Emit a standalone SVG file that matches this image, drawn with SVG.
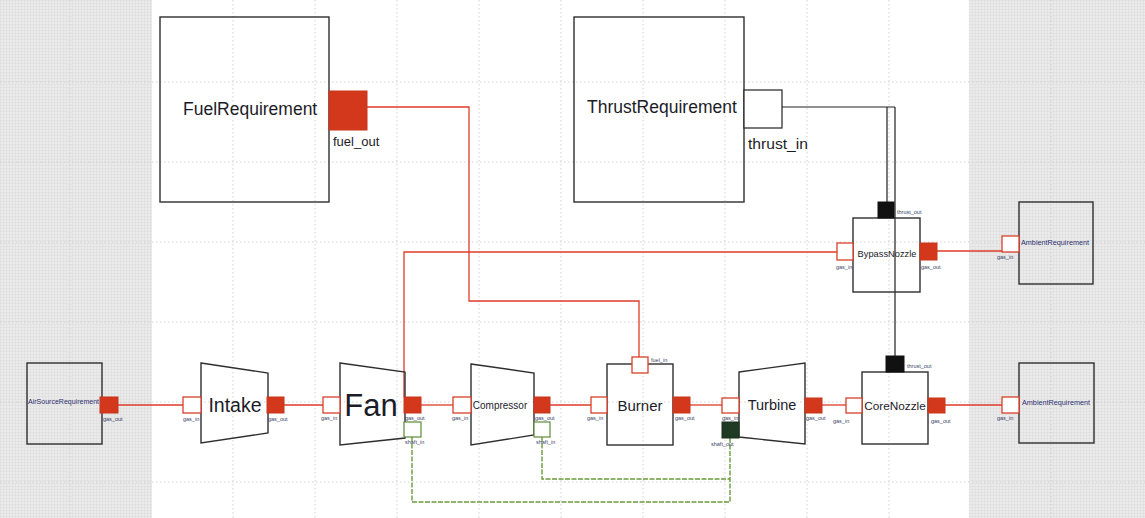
<svg xmlns="http://www.w3.org/2000/svg" width="1145" height="518" viewBox="0 0 1145 518">
<style>
.grid{stroke:#d2d2d2;stroke-width:1;stroke-dasharray:1.5 2.5;fill:none}
.box{fill:none;stroke:#2e2e2e;stroke-width:1.4}
.pin{fill:#ffffff;stroke:#d8402a;stroke-width:1.3}
.pout{fill:#d3381d;stroke:#c8361c;stroke-width:1}
.sin{fill:#ffffff;stroke:#5e8a3a;stroke-width:1.2}
.sout{fill:#1f3b24;stroke:#1a2e1c;stroke-width:1}
.tout{fill:#111111;stroke:#111111;stroke-width:1}
.tin{fill:#ffffff;stroke:#222222;stroke-width:1.2}
.red{fill:none;stroke:#de3d28;stroke-width:1.3}
.blk{fill:none;stroke:#222222;stroke-width:1.2}
.grn{fill:none;stroke:#6a9c3c;stroke-width:1.4;stroke-dasharray:5 1.5}
.big{font-family:"Liberation Sans",Arial,sans-serif;fill:#1c1c28}
.tiny{font-family:"Liberation Sans",Arial,sans-serif;font-size:5.5px;fill:#3a3f66}
.nl{font-family:"Liberation Sans",Arial,sans-serif;font-size:6.5px;fill:#2c2f70}
</style>
<defs>
<pattern id="dots" width="3" height="3" patternUnits="userSpaceOnUse">
<rect width="3" height="3" fill="#ebebeb"/>
<rect x="0" y="0" width="3" height="0.6" fill="#dcdcdc"/>
<rect x="0" y="0" width="0.6" height="3" fill="#dedede"/>
</pattern>
</defs>
<rect x="0" y="0" width="1145" height="518" fill="#ffffff"/>
<rect x="0" y="0" width="152" height="518" fill="url(#dots)"/>
<rect x="969" y="0" width="176" height="518" fill="url(#dots)"/>
<g id="grid">
<path class="grid" d="M233 0V518M315 0V518M397 0V518M479 0V518M561 0V518M643 0V518M725 0V518M807 0V518M889 0V518M70 0V518M1051 0V518"/>
<path class="grid" d="M0 82H1145M0 162H1145M0 242H1145M0 322H1145M0 402H1145M0 482H1145"/>
</g>

<g id="connectors">
<path class="red" d="M118 405H183"/>
<path class="red" d="M284 405H323"/>
<path class="red" d="M421 405H453"/>
<path class="red" d="M550 405H591"/>
<path class="red" d="M690 405H722"/>
<path class="red" d="M822 405H846"/>
<path class="red" d="M945 405H1002"/>
<path class="red" d="M404 397V252H837"/>
<path class="red" d="M937 251H1002"/>
<path class="red" d="M367 107H469V301H639V357"/>
<path class="blk" d="M782 107H895M887 107V202M895 107V356"/>
<path class="grn" d="M412 437V502H730V438"/>
<path class="grn" d="M542 437V479H730"/>
</g>

<g id="AirSourceRequirement">
<rect class="box" x="27" y="363" width="75" height="81"/>
<text class="nl" x="28" y="404" textLength="71" lengthAdjust="spacingAndGlyphs">AirSourceRequirement</text>
<rect class="pout" x="100" y="397" width="18" height="16"/>
<text class="tiny" x="103" y="421">gas_out</text>
</g>

<g id="Intake">
<path class="box" d="M201 363L268 373V433L201 443Z"/>
<text class="big" x="235" y="412" font-size="19.5" text-anchor="middle">Intake</text>
<rect class="pin" x="183" y="397" width="18" height="16"/>
<rect class="pout" x="267" y="397" width="17" height="16"/>
<text class="tiny" x="183" y="421">gas_in</text>
<text class="tiny" x="268" y="421">gas_out</text>
</g>

<g id="Fan">
<path class="box" d="M340 363L405 372V438L340 445Z"/>
<text class="big" x="371" y="416" font-size="31" text-anchor="middle">Fan</text>
<rect class="pin" x="323" y="397" width="17" height="16"/>
<rect class="pout" x="404" y="397" width="17" height="16"/>
<rect class="sin" x="404" y="422" width="17" height="15"/>
<text class="tiny" x="321" y="420">gas_in</text>
<text class="tiny" x="405" y="420">gas_out</text>
<text class="tiny" x="405" y="444">shaft_in</text>
</g>

<g id="Compressor">
<path class="box" d="M471 364L534 373V435L471 445Z"/>
<text class="big" x="500" y="409" font-size="10" text-anchor="middle">Compressor</text>
<rect class="pin" x="453" y="397" width="18" height="16"/>
<rect class="pout" x="534" y="397" width="16" height="16"/>
<rect class="sin" x="534" y="422" width="16" height="15"/>
<text class="tiny" x="452" y="420">gas_in</text>
<text class="tiny" x="535" y="420">gas_out</text>
<text class="tiny" x="536" y="444">shaft_in</text>
</g>

<g id="Burner">
<rect class="box" x="607" y="364" width="66" height="81"/>
<text class="big" x="640" y="411" font-size="15" text-anchor="middle">Burner</text>
<rect class="pin" x="591" y="397" width="16" height="16"/>
<rect class="pout" x="673" y="397" width="17" height="16"/>
<rect class="pin" x="632" y="357" width="16" height="16"/>
<text class="tiny" x="587" y="420">gas_in</text>
<text class="tiny" x="675" y="420">gas_out</text>
<text class="tiny" x="651" y="362">fuel_in</text>
</g>

<g id="Turbine">
<path class="box" d="M739 372L805 363V444L739 437Z"/>
<text class="big" x="772" y="410" font-size="14.5" text-anchor="middle">Turbine</text>
<rect class="pin" x="722" y="398" width="17" height="15"/>
<rect class="pout" x="805" y="398" width="17" height="15"/>
<rect class="sout" x="722" y="422" width="17" height="16"/>
<text class="tiny" x="722" y="420">gas_in</text>
<text class="tiny" x="806" y="420">gas_out</text>
<text class="tiny" x="711" y="446">shaft_out</text>
</g>

<g id="CoreNozzle">
<rect class="box" x="862" y="372" width="66" height="72"/>
<text class="big" x="895" y="410" font-size="11.8" text-anchor="middle">CoreNozzle</text>
<rect class="pin" x="846" y="398" width="16" height="15"/>
<rect class="pout" x="928" y="398" width="17" height="15"/>
<rect class="tout" x="886" y="356" width="18" height="16"/>
<text class="tiny" x="833" y="423" font-size="6.5">gas_in</text>
<text class="tiny" x="931" y="423" font-size="6.5">gas_out</text>
<text class="tiny" x="907" y="368">thrust_out</text>
</g>

<g id="BypassNozzle">
<rect class="box" x="853" y="218" width="67" height="74"/>
<text class="big" x="887" y="257" font-size="9.3" text-anchor="middle">BypassNozzle</text>
<rect class="pin" x="837" y="243" width="16" height="17"/>
<rect class="pout" x="920" y="243" width="17" height="17"/>
<rect class="tout" x="878" y="202" width="16" height="16"/>
<text class="tiny" x="836" y="269">gas_in</text>
<text class="tiny" x="921" y="269">gas_out</text>
<text class="tiny" x="897" y="214">thrust_out</text>
</g>

<g id="AmbientRequirement1">
<rect class="box" x="1019" y="202" width="74" height="82"/>
<text class="nl" x="1021" y="245" textLength="68" lengthAdjust="spacingAndGlyphs">AmbientRequirement</text>
<rect class="pin" x="1002" y="236" width="17" height="16"/>
<text class="tiny" x="997" y="259">gas_in</text>
</g>

<g id="AmbientRequirement2">
<rect class="box" x="1019" y="363" width="75" height="80"/>
<text class="nl" x="1022" y="405" textLength="68" lengthAdjust="spacingAndGlyphs">AmbientRequirement</text>
<rect class="pin" x="1002" y="397" width="17" height="16"/>
<text class="tiny" x="997" y="420">gas_in</text>
</g>

<g id="FuelRequirement">
<rect class="box" x="160" y="17" width="169" height="185"/>
<text class="big" x="183" y="115" font-size="17.5">FuelRequirement</text>
<rect class="pout" x="329" y="91" width="38" height="39"/>
<text class="big" x="333" y="146" font-size="13">fuel_out</text>
</g>

<g id="ThrustRequirement">
<rect class="box" x="574" y="17" width="170" height="185"/>
<text class="big" x="587" y="113" font-size="17.5">ThrustRequirement</text>
<rect class="tin" x="744" y="90" width="38" height="38"/>
<text class="big" x="748" y="149" font-size="14" textLength="60" lengthAdjust="spacingAndGlyphs">thrust_in</text>
</g>
</svg>
